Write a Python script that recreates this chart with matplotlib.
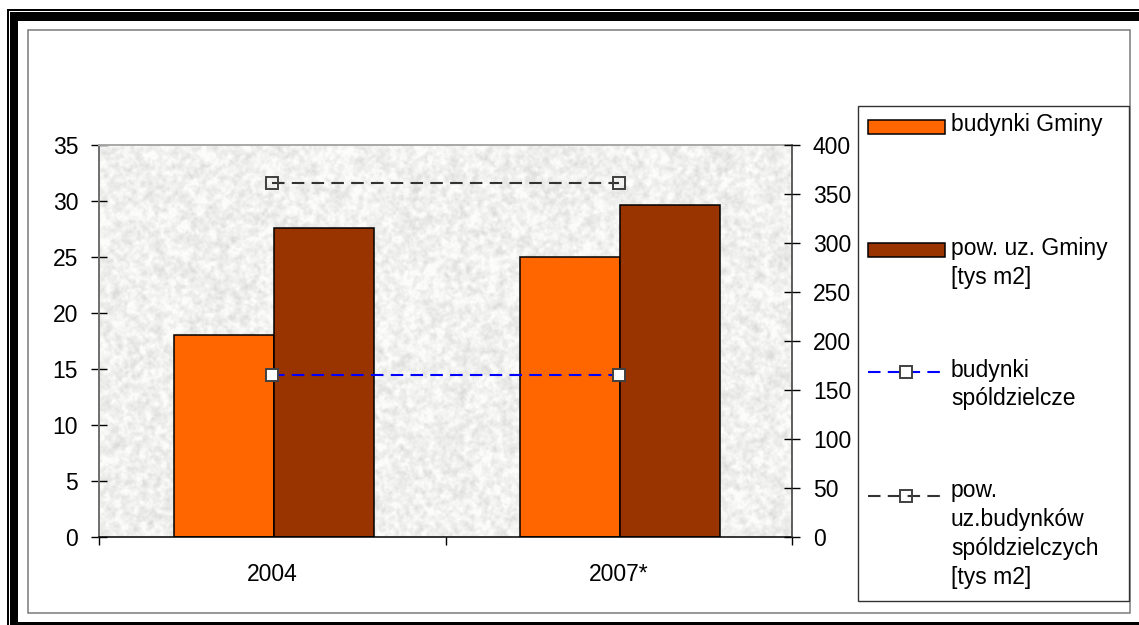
import numpy as np
import matplotlib
matplotlib.use('Agg')
import matplotlib.pyplot as plt
from matplotlib.patches import Rectangle
from matplotlib.lines import Line2D

# ---------------- data ----------------
categories = ['2004', '2007*']
budynki_gminy = [18.0, 25.0]          # left axis
pow_uz_gminy = [27.6, 29.6]           # left axis
budynki_spoldzielcze = [165, 165]     # right axis
pow_uz_spoldzielczych = [361, 361]    # right axis
left_ticks = [0, 5, 10, 15, 20, 25, 30, 35]
right_ticks = [0, 50, 100, 150, 200, 250, 300, 350, 400]
legend_labels = ['budynki Gminy',
                 'pow. uz. Gminy\n[tys m2]',
                 'budynki\nspóldzielcze',
                 'pow.\nuz.budynków\nspóldzielczych\n[tys m2]']

# ---------------- style ----------------
W, H, DPI = 1139, 625, 100
FS = 16.5
C_ORANGE = '#FF6600'
C_BROWN = '#993300'
C_BLUE = '#0000FF'
C_DARK = '#333333'
DASH = (0, (6, 3.5))
LW = 1.5

plt.rcParams['font.family'] = ['Liberation Sans', 'DejaVu Sans']

fig = plt.figure(figsize=(W / DPI, H / DPI), dpi=DPI)
fig.patch.set_facecolor('white')


def fy(y):
    return 1 - y / H


def px_rect(x0, y0, x1, y1, **kw):
    r = Rectangle((x0 / W, 1 - y1 / H), (x1 - x0) / W, (y1 - y0) / H,
                  transform=fig.transFigure, **kw)
    fig.add_artist(r)
    return r


# ---------------- outer frame ----------------
px_rect(7, 9, 9, H + 5, facecolor='black', edgecolor='none', lw=0)
px_rect(7, 9, W + 5, 10.5, facecolor='black', edgecolor='none', lw=0)
px_rect(10, 12, 17.5, H + 5, facecolor='black', edgecolor='none', lw=0)
px_rect(10, 12, W + 5, 21, facecolor='black', edgecolor='none', lw=0)
px_rect(10, 621.5, W + 5, H + 5, facecolor='black', edgecolor='none', lw=0)
px_rect(27.5, 29.5, 1129.5, 612.5, facecolor='none', edgecolor='#7a7a7a', lw=1.1)

# ---------------- plot area ----------------
pos = [99 / W, 1 - 537 / H, 693 / W, 392 / H]

# decorative granite-like background
bg = fig.add_axes(pos, zorder=0)
th, tw = 392, 693
yy, xx = np.mgrid[0:th, 0:tw].astype(float)


def hashnoise(a, b):
    v = np.sin(a * 12.9898 + b * 78.233) * 43758.5453
    return v - np.floor(v)


n1 = hashnoise(xx, yy)
n2 = hashnoise(np.floor(xx / 3) + 0.37, np.floor(yy / 3) + 1.91)
n3 = hashnoise(np.floor(xx / 6) + 3.1, np.floor(yy / 6) + 0.53)


def blur(a, r):
    out = np.zeros_like(a)
    cnt = 0
    for dx in range(-r, r + 1):
        for dy in range(-r, r + 1):
            out += np.roll(np.roll(a, dx, axis=1), dy, axis=0)
            cnt += 1
    return out / cnt


s = 0.4 * blur(n1, 1) + 0.4 * blur(n2, 2) + 0.2 * blur(n3, 3)
z = (s - s.mean()) / s.std()
g = np.clip(0.945 + 0.026 * z, 0.86, 0.99)
tex = np.dstack([g, g, g * 0.995])
bg.imshow(tex, aspect='auto', interpolation='bilinear', extent=[0, 1, 0, 1])
bg.set_xlim(0, 1)
bg.set_ylim(0, 1)
bg.axis('off')

ax = fig.add_axes(pos, zorder=1)
ax.patch.set_visible(False)

x = np.arange(len(categories))
w = 0.2886
ax.bar(x - w / 2 + 0.004, budynki_gminy, w, color=C_ORANGE, edgecolor='black', linewidth=1.1, zorder=2)
ax.bar(x + w / 2 + 0.004, pow_uz_gminy, w, color=C_BROWN, edgecolor='black', linewidth=1.1, zorder=2)

ax.set_xlim(-0.5, len(categories) - 0.5)
ax.set_ylim(0, 35)
ax.set_yticks(left_ticks)
ax.set_xticks(np.arange(len(categories) + 1) - 0.5)
ax.set_xticklabels([])
ax.set_xticks(x, minor=True)
ax.set_xticklabels(categories, minor=True)
ax.tick_params(axis='y', direction='inout', length=11.5, width=1, pad=9.3,
               labelsize=FS, colors='black')
ax.tick_params(axis='x', which='major', direction='out', length=5.8, width=1, color='black')
ax.tick_params(axis='x', which='minor', length=0, pad=18.7, labelsize=FS)

ax.spines['left'].set_color('#6e6e6e')
ax.spines['left'].set_linewidth(1.4)
ax.spines['top'].set_color('#a8a8a8')
ax.spines['top'].set_linewidth(1.4)
ax.spines['bottom'].set_color('black')
ax.spines['bottom'].set_linewidth(1.1)
ax.spines['right'].set_visible(False)

ax2 = ax.twinx()
ax2.set_zorder(2)
ax2.patch.set_visible(False)
ax2.plot(x, budynki_spoldzielcze, color=C_BLUE, lw=LW, ls=DASH, marker='s', ms=8.5,
         mfc='white', mec='#404040', mew=1.4, zorder=3)
ax2.plot(x, pow_uz_spoldzielczych, color=C_DARK, lw=LW, ls=DASH, marker='s', ms=8.5,
         mfc='none', mec='#404040', mew=1.4, zorder=3)
ax2.set_ylim(0, 400)
ax2.set_yticks(right_ticks)
ax2.tick_params(axis='y', direction='inout', length=11.5, width=1, pad=9.3,
                labelsize=FS, colors='black')
for sp in ['left', 'top', 'bottom']:
    ax2.spines[sp].set_visible(False)
ax2.spines['right'].set_color('#333333')
ax2.spines['right'].set_linewidth(1.1)

# ---------------- legend (drawn manually) ----------------
px_rect(858, 106, 1129, 601, facecolor='white', edgecolor='#333333', lw=1.0)

baselines = [131.5, 255.0, 376.5, 497.0]
handle_y = [127, 250, 372, 496]
line_pitch = 29
hx0, hx1, hmx = 868, 945, 906
tx = 951

for c, yc in [(C_ORANGE, handle_y[0]), (C_BROWN, handle_y[1])]:
    px_rect(hx0, yc - 7, hx1, yc + 7, facecolor=c, edgecolor='black', lw=1.1)

for c, mfc, yc in [(C_BLUE, 'white', handle_y[2]), (C_DARK, 'none', handle_y[3])]:
    fig.add_artist(Line2D([hx0 / W, hx1 / W], [fy(yc)] * 2, transform=fig.transFigure,
                          color=c, lw=LW, ls=DASH))
    fig.add_artist(Line2D([hmx / W], [fy(yc)], transform=fig.transFigure,
                          ls='none', marker='s', ms=8.5, mfc=mfc, mec='#404040', mew=1.4))

for lab, yb in zip(legend_labels, baselines):
    for k, line in enumerate(lab.split('\n')):
        fig.text(tx / W, fy(yb + k * line_pitch), line, ha='left', va='baseline',
                 fontsize=FS, color='black')

fig.savefig('out.png', dpi=DPI, facecolor='white')
